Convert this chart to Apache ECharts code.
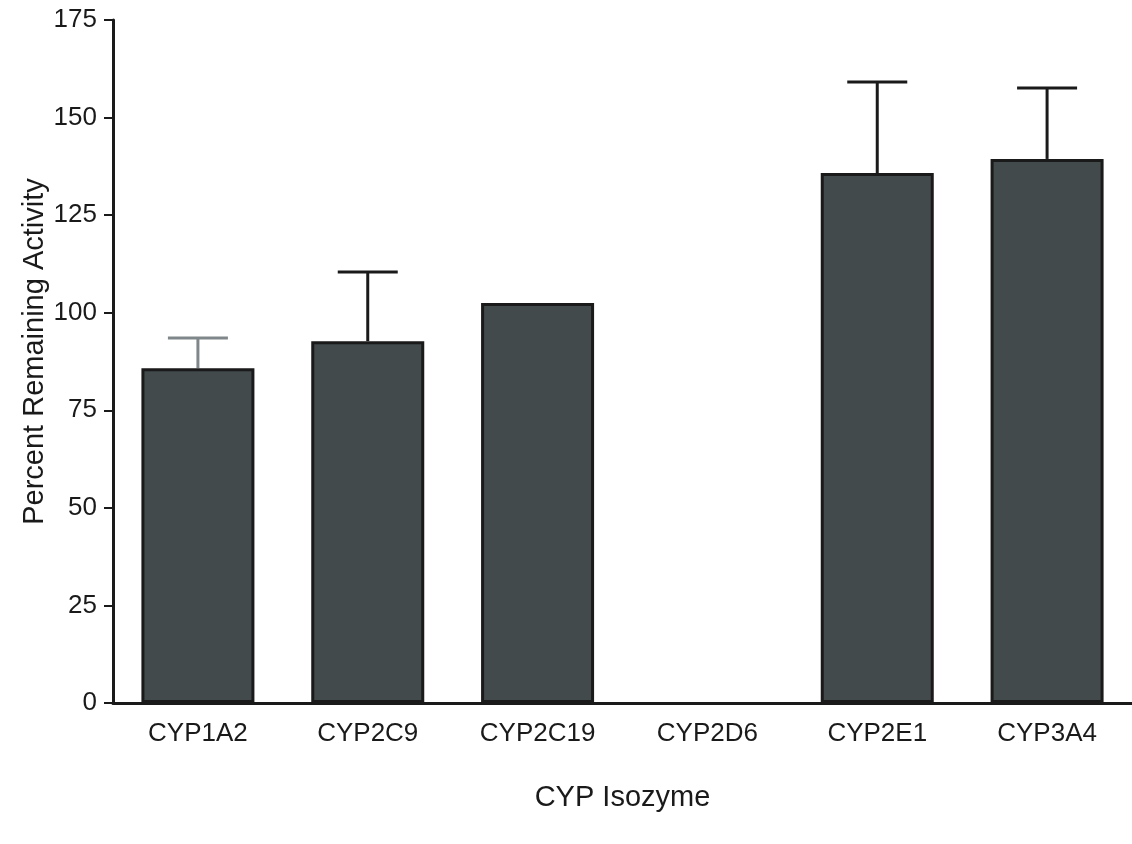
<!DOCTYPE html>
<html>
<head>
<meta charset="utf-8">
<script src="https://cdn.jsdelivr.net/npm/echarts@6/dist/echarts.min.js"></script>
<style>
  html, body { margin: 0; padding: 0; background: #fff; }
  #chart { width: 1132px; height: 844px; }
</style>
</head>
<body>
<div id="chart"></div>
<script>
// data
var isozymes = ['CYP1A2', 'CYP2C9', 'CYP2C19', 'CYP2D6', 'CYP2E1', 'CYP3A4']
var meanActivity = [85.8, 92.7, 102.5, 0, 135.8, 139.4]
var errorTop = [93.5, 110.4, 102.5, 0, 159.1, 157.6]
var errorColors = ['#80878a', '#1a1a1a', '#1a1a1a', '#1a1a1a', '#1a1a1a', '#1a1a1a']
var yTicks = [0, 25, 50, 75, 100, 125, 150, 175]

var font = 'Liberation Sans, Arial, sans-serif'

// a zero bar draws nothing in the original, so drop its border
var barData = meanActivity.map(function (v) {
  return v === 0 ? { value: v, itemStyle: { borderWidth: 0 } } : v
})

var errorData = isozymes.map(function (name, i) {
  return [i, meanActivity[i], errorTop[i]]
})

var chart = echarts.init(document.getElementById('chart'))
chart.setOption({
  backgroundColor: '#fff',
  animation: false,
  grid: {
    left: 113,
    right: -7,
    top: 20,
    bottom: 141
  },
  xAxis: {
    type: 'category',
    data: isozymes,
    name: 'CYP Isozyme',
    nameLocation: 'middle',
    nameGap: 80,
    nameTextStyle: { color: '#1a1a1a', fontSize: 29, fontFamily: font },
    axisLine: { lineStyle: { color: '#1a1a1a', width: 3 } },
    axisTick: { alignWithLabel: true, length: 6, lineStyle: { color: '#1a1a1a', width: 2 } },
    axisLabel: { color: '#1a1a1a', fontSize: 26, fontFamily: font, margin: 18 }
  },
  yAxis: {
    type: 'value',
    min: yTicks[0],
    max: yTicks[yTicks.length - 1],
    interval: 25,
    name: 'Percent Remaining Activity',
    nameLocation: 'middle',
    nameGap: 64,
    nameMoveOverlap: false,
    nameTextStyle: { color: '#1a1a1a', fontSize: 29, fontFamily: font, padding: [0, 0, 0, 20] },
    axisLine: { show: true, lineStyle: { color: '#1a1a1a', width: 3 } },
    axisTick: { show: true, length: 9, lineStyle: { color: '#1a1a1a', width: 2 } },
    axisLabel: { color: '#1a1a1a', fontSize: 26, fontFamily: font, margin: 16 },
    splitLine: { show: false }
  },
  series: [
    {
      type: 'bar',
      data: barData,
      barWidth: 113,
      itemStyle: {
        color: '#424a4b',
        borderColor: '#1a1a1a',
        borderWidth: 3
      },
      z: 2
    },
    {
      // upward error bars with a cap
      type: 'custom',
      data: errorData,
      z: 1,
      renderItem: function (params, api) {
        var i = api.value(0)
        if (api.value(2) <= api.value(1)) return null
        var low = api.coord([i, api.value(1)])
        var high = api.coord([i, api.value(2)])
        var half = 30
        var color = errorColors[i]
        return {
          type: 'group',
          children: [
            {
              type: 'line',
              shape: { x1: low[0], y1: low[1], x2: high[0], y2: high[1] },
              style: { stroke: color, lineWidth: 3 }
            },
            {
              type: 'line',
              shape: { x1: high[0] - half, y1: high[1], x2: high[0] + half, y2: high[1] },
              style: { stroke: color, lineWidth: 3 }
            }
          ]
        }
      }
    }
  ]
})
</script>
</body>
</html>
